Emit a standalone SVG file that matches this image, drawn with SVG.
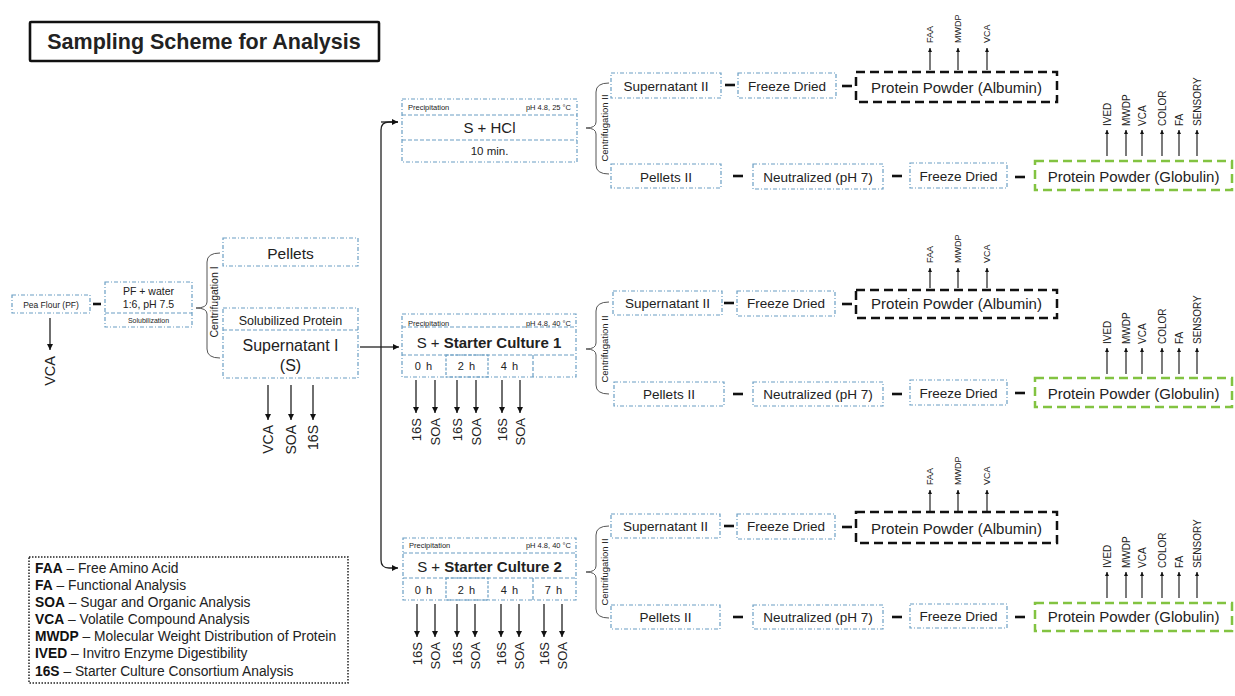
<svg xmlns="http://www.w3.org/2000/svg" width="1235" height="696" viewBox="0 0 1235 696">
<defs>
<marker id="ah" markerUnits="userSpaceOnUse" markerWidth="7" markerHeight="7" refX="6" refY="3" orient="auto"><path d="M0,0 L6,3 L0,6 z" fill="#111"/></marker>
<marker id="ahs" markerUnits="userSpaceOnUse" markerWidth="5" markerHeight="5" refX="4" refY="2" orient="auto"><path d="M0,0 L4,2 L0,4 z" fill="#111"/></marker>
<style>
text{font-family:"Liberation Sans",Arial,sans-serif;fill:#222}
.bx{fill:#fff;stroke:#6a9ec4;stroke-width:1.2;stroke-dasharray:4 2 1 2}
.dv{stroke:#6a9ec4;stroke-width:1.2;stroke-dasharray:4 2}
.alb{fill:#fff;stroke:#111;stroke-width:2.5;stroke-dasharray:9 5}
.glb{fill:#fff;stroke:#82c341;stroke-width:2.5;stroke-dasharray:9 5}
.arr{stroke:#222;stroke-width:1.3;fill:none;marker-end:url(#ah)}
.sa{stroke:#222;stroke-width:1.2;fill:none;marker-end:url(#ahs)}
.dash{stroke:#111;stroke-width:2.6}
.br{stroke:#555;fill:none;stroke-width:1}
.c{text-anchor:middle}
.e{text-anchor:end}
.m{font-size:13.5px}
.p{font-size:15px}
.hd{font-size:7.5px}
.tm{font-size:11px;letter-spacing:1px}
.g{font-size:10px}
.a{font-size:9px}
.r13{font-size:13px}
.r14{font-size:14px}
</style>
</defs>

<g id="title">
<rect x="30" y="22" width="349" height="39" fill="#fff" stroke="#111" stroke-width="2.6" rx="1"/>
<text x="204" y="49" class="c" font-size="21.5" font-weight="bold" fill="#111">Sampling Scheme for Analysis</text>
</g>

<g id="connectors">
<line class="dash" x1="93" y1="304" x2="101" y2="304"/>
<line class="arr" x1="50" y1="318" x2="50" y2="350"/>
<path class="br" d="M220,253 Q207,253 207,262 L207,302 Q207,308 196,308 Q207,308 207,314 L207,349 Q207,358 220,358"/>
<line class="arr" x1="268" y1="385" x2="268" y2="420"/>
<line class="arr" x1="291" y1="385" x2="291" y2="420"/>
<line class="arr" x1="313" y1="385" x2="313" y2="420"/>
<line x1="360" y1="347" x2="381" y2="347" stroke="#222" stroke-width="1.3"/>
<path d="M398,122 L389,122 Q381,122 381,130 L381,560 Q381,568 389,568 L398,568" stroke="#222" stroke-width="1.3" fill="none" marker-end="url(#ah)"/>
<line class="arr" x1="381" y1="347" x2="399" y2="347"/>
<line class="arr" x1="381" y1="122" x2="398" y2="122"/>
<line class="arr" x1="416" y1="380" x2="416" y2="413"/>
<line class="arr" x1="435" y1="380" x2="435" y2="413"/>
<line class="arr" x1="457" y1="380" x2="457" y2="413"/>
<line class="arr" x1="476" y1="380" x2="476" y2="413"/>
<line class="arr" x1="502" y1="380" x2="502" y2="413"/>
<line class="arr" x1="520" y1="380" x2="520" y2="413"/>
<line class="arr" x1="417" y1="604" x2="417" y2="637"/>
<line class="arr" x1="435" y1="604" x2="435" y2="637"/>
<line class="arr" x1="457" y1="604" x2="457" y2="637"/>
<line class="arr" x1="475" y1="604" x2="475" y2="637"/>
<line class="arr" x1="501" y1="604" x2="501" y2="637"/>
<line class="arr" x1="519" y1="604" x2="519" y2="637"/>
<line class="arr" x1="544" y1="604" x2="544" y2="637"/>
<line class="arr" x1="562" y1="604" x2="562" y2="637"/>
<path class="br" d="M609,83 Q596,83 596,92 L596,122 Q596,128 586,128 Q596,128 596,134 L596,165 Q596,174 609,174"/>
<path class="br" d="M609,302 Q596,302 596,311 L596,343 Q596,349 586,349 Q596,349 596,355 L596,385 Q596,394 609,394"/>
<path class="br" d="M609,526 Q596,526 596,535 L596,566 Q596,572 586,572 Q596,572 596,578 L596,609 Q596,618 609,618"/>
<line class="dash" x1="725" y1="85" x2="735" y2="85"/>
<line class="dash" x1="842" y1="86" x2="852" y2="86"/>
<line class="dash" x1="733" y1="176" x2="743" y2="176"/>
<line class="dash" x1="892" y1="176" x2="902" y2="176"/>
<line class="dash" x1="1015" y1="177" x2="1025" y2="177"/>
<line class="dash" x1="724" y1="303" x2="734" y2="303"/>
<line class="dash" x1="842" y1="304" x2="852" y2="304"/>
<line class="dash" x1="733" y1="394" x2="743" y2="394"/>
<line class="dash" x1="892" y1="394" x2="902" y2="394"/>
<line class="dash" x1="1015" y1="393" x2="1025" y2="393"/>
<line class="dash" x1="724" y1="526" x2="734" y2="526"/>
<line class="dash" x1="842" y1="527" x2="852" y2="527"/>
<line class="dash" x1="733" y1="617" x2="743" y2="617"/>
<line class="dash" x1="892" y1="617" x2="902" y2="617"/>
<line class="dash" x1="1015" y1="617" x2="1025" y2="617"/>
<line class="sa" x1="930" y1="70" x2="930" y2="48"/>
<line class="sa" x1="958" y1="70" x2="958" y2="48"/>
<line class="sa" x1="987" y1="70" x2="987" y2="48"/>
<line class="sa" x1="930" y1="288" x2="930" y2="268"/>
<line class="sa" x1="958" y1="288" x2="958" y2="268"/>
<line class="sa" x1="987" y1="288" x2="987" y2="268"/>
<line class="sa" x1="930" y1="511" x2="930" y2="490"/>
<line class="sa" x1="958" y1="511" x2="958" y2="490"/>
<line class="sa" x1="987" y1="511" x2="987" y2="490"/>
<line class="sa" x1="1107" y1="156" x2="1107" y2="130"/>
<line class="sa" x1="1126" y1="156" x2="1126" y2="130"/>
<line class="sa" x1="1142" y1="156" x2="1142" y2="130"/>
<line class="sa" x1="1162" y1="156" x2="1162" y2="130"/>
<line class="sa" x1="1179" y1="156" x2="1179" y2="130"/>
<line class="sa" x1="1197" y1="156" x2="1197" y2="130"/>
<line class="sa" x1="1107" y1="374" x2="1107" y2="348"/>
<line class="sa" x1="1126" y1="374" x2="1126" y2="348"/>
<line class="sa" x1="1142" y1="374" x2="1142" y2="348"/>
<line class="sa" x1="1162" y1="374" x2="1162" y2="348"/>
<line class="sa" x1="1179" y1="374" x2="1179" y2="348"/>
<line class="sa" x1="1197" y1="374" x2="1197" y2="348"/>
<line class="sa" x1="1107" y1="598" x2="1107" y2="572"/>
<line class="sa" x1="1126" y1="598" x2="1126" y2="572"/>
<line class="sa" x1="1142" y1="598" x2="1142" y2="572"/>
<line class="sa" x1="1162" y1="598" x2="1162" y2="572"/>
<line class="sa" x1="1179" y1="598" x2="1179" y2="572"/>
<line class="sa" x1="1197" y1="598" x2="1197" y2="572"/>
</g>

<g id="pea-flour">
<rect class="bx" x="12" y="295" width="78" height="18"/>
<text x="51" y="307.5" class="c" font-size="8.5">Pea Flour (PF)</text>
<text transform="translate(55,356) rotate(-90)" class="e" font-size="14.5">VCA</text>
</g>

<g id="pf-water">
<rect class="bx" x="105" y="282" width="87" height="45"/>
<line class="dv" x1="105" y1="313" x2="192" y2="313"/>
<text x="148.5" y="295" class="c" font-size="10.5">PF + water</text>
<text x="148.5" y="308" class="c" font-size="10.5">1:6, pH 7.5</text>
<text x="148.5" y="322.5" class="c" font-size="7">Solubilization</text>
</g>

<g id="centrifugation-1">
<text transform="translate(218,302) rotate(-90)" class="c" font-size="10.5">Centrifugation I</text>
</g>

<g id="pellets">
<rect class="bx" x="223" y="238" width="135" height="28"/>
<text x="290.5" y="258.5" class="c" font-size="15.5">Pellets</text>
</g>

<g id="supernatant-1">
<rect class="bx" x="223" y="308" width="135" height="70"/>
<line class="dv" x1="223" y1="330" x2="358" y2="330"/>
<text x="290.5" y="324.5" class="c" font-size="12.5">Solubilized Protein</text>
<text x="290.5" y="350.5" class="c" font-size="16">Supernatant I</text>
<text x="290.5" y="371" class="c" font-size="16">(S)</text>
<text transform="translate(273,425) rotate(-90)" class="e r14">VCA</text>
<text transform="translate(296,425) rotate(-90)" class="e r14">SOA</text>
<text transform="translate(318,425) rotate(-90)" class="e r14">16S</text>
</g>

<g id="precip-hcl">
<rect class="bx" x="402" y="99" width="175" height="63"/>
<line class="dv" x1="402" y1="115" x2="577" y2="115"/>
<line class="dv" x1="402" y1="140" x2="577" y2="140"/>
<text x="408" y="109.5" class="hd">Precipitation</text>
<text x="571" y="109.5" class="hd e">pH 4.8, 25 °C</text>
<text x="489.5" y="133" class="c" font-size="15">S + HCl</text>
<text x="489.5" y="155" class="c" font-size="11.5">10 min.</text>
</g>

<g id="precip-sc1">
<rect class="bx" x="402" y="314" width="174" height="63"/>
<line class="dv" x1="402" y1="327" x2="576" y2="327"/>
<line class="dv" x1="402" y1="355" x2="576" y2="355"/>
<rect x="446" y="355" width="42" height="22" fill="none" stroke="#6a9ec4" stroke-width="1.2" stroke-dasharray="3 1.5"/>
<line class="dv" x1="533" y1="355" x2="533" y2="377"/>
<text x="408" y="325.5" class="hd">Precipitation</text>
<text x="571" y="325.5" class="hd e">pH 4.8, 40 °C</text>
<text x="489" y="348" class="c" font-size="15">S + <tspan font-weight="bold">Starter Culture 1</tspan></text>
<text x="424" y="370" class="c tm">0 h</text>
<text x="467" y="370" class="c tm">2 h</text>
<text x="510" y="370" class="c tm">4 h</text>
<text transform="translate(420.7,418) rotate(-90)" class="e r13">16S</text>
<text transform="translate(439.7,418) rotate(-90)" class="e r13">SOA</text>
<text transform="translate(461.7,418) rotate(-90)" class="e r13">16S</text>
<text transform="translate(480.7,418) rotate(-90)" class="e r13">SOA</text>
<text transform="translate(506.7,418) rotate(-90)" class="e r13">16S</text>
<text transform="translate(524.7,418) rotate(-90)" class="e r13">SOA</text>
</g>

<g id="precip-sc2">
<rect class="bx" x="403" y="538" width="173" height="62"/>
<line class="dv" x1="403" y1="553" x2="576" y2="553"/>
<line class="dv" x1="403" y1="578" x2="576" y2="578"/>
<rect x="446" y="578" width="42" height="22" fill="none" stroke="#6a9ec4" stroke-width="1.2" stroke-dasharray="3 1.5"/>
<line class="dv" x1="533" y1="578" x2="533" y2="600"/>
<text x="409" y="547.5" class="hd">Precipitation</text>
<text x="571" y="547.5" class="hd e">pH 4.8, 40 °C</text>
<text x="489.5" y="572" class="c" font-size="15">S + <tspan font-weight="bold">Starter Culture 2</tspan></text>
<text x="424" y="594" class="c tm">0 h</text>
<text x="467" y="594" class="c tm">2 h</text>
<text x="510" y="594" class="c tm">4 h</text>
<text x="554" y="594" class="c tm">7 h</text>
<text transform="translate(421.7,642) rotate(-90)" class="e r13">16S</text>
<text transform="translate(439.7,642) rotate(-90)" class="e r13">SOA</text>
<text transform="translate(461.7,642) rotate(-90)" class="e r13">16S</text>
<text transform="translate(479.7,642) rotate(-90)" class="e r13">SOA</text>
<text transform="translate(505.7,642) rotate(-90)" class="e r13">16S</text>
<text transform="translate(523.7,642) rotate(-90)" class="e r13">SOA</text>
<text transform="translate(548.7,642) rotate(-90)" class="e r13">16S</text>
<text transform="translate(566.7,642) rotate(-90)" class="e r13">SOA</text>
</g>

<g id="group-hcl">
<text transform="translate(607.5,128) rotate(-90)" class="c" font-size="9.5">Centrifugation II</text>
<rect class="bx" x="611" y="73" width="110" height="25"/>
<text x="666" y="91" class="c m">Supernatant II</text>
<rect class="bx" x="738" y="73" width="98" height="25"/>
<text x="787" y="91" class="c m">Freeze Dried</text>
<rect class="alb" x="856" y="72" width="201" height="30"/>
<text x="956.5" y="92.5" class="c p">Protein Powder (Albumin)</text>
<text transform="translate(933.2,43) rotate(-90)" class="a">FAA</text>
<text transform="translate(961.2,43) rotate(-90)" class="a">MWDP</text>
<text transform="translate(990.2,43) rotate(-90)" class="a">VCA</text>
<rect class="bx" x="611" y="164" width="110" height="24"/>
<text x="666" y="181.5" class="c m">Pellets II</text>
<rect class="bx" x="753" y="164" width="130" height="25"/>
<text x="818" y="181.5" class="c m">Neutralized (pH 7)</text>
<rect class="bx" x="910" y="163" width="97" height="25"/>
<text x="958.5" y="181.4" class="c m">Freeze Dried</text>
<rect class="glb" x="1035" y="161" width="197" height="29"/>
<text x="1133.5" y="182" class="c p">Protein Powder (Globulin)</text>
<text transform="translate(1110.6,126) rotate(-90)" class="g">IVED</text>
<text transform="translate(1129.6,126) rotate(-90)" class="g">MWDP</text>
<text transform="translate(1145.6,126) rotate(-90)" class="g">VCA</text>
<text transform="translate(1165.6,126) rotate(-90)" class="g">COLOR</text>
<text transform="translate(1182.6,126) rotate(-90)" class="g">FA</text>
<text transform="translate(1200.6,126) rotate(-90)" class="g">SENSORY</text>
</g>

<g id="group-sc1">
<text transform="translate(607.5,349) rotate(-90)" class="c" font-size="9.5">Centrifugation II</text>
<rect class="bx" x="613" y="291" width="109" height="24"/>
<text x="667.5" y="307.5" class="c m">Supernatant II</text>
<rect class="bx" x="737" y="291" width="98" height="25"/>
<text x="786" y="307.5" class="c m">Freeze Dried</text>
<rect class="alb" x="856" y="290" width="201" height="28"/>
<text x="956.5" y="309.3" class="c p">Protein Powder (Albumin)</text>
<text transform="translate(933.2,263) rotate(-90)" class="a">FAA</text>
<text transform="translate(961.2,263) rotate(-90)" class="a">MWDP</text>
<text transform="translate(990.2,263) rotate(-90)" class="a">VCA</text>
<rect class="bx" x="614" y="382" width="110" height="24"/>
<text x="669" y="398.7" class="c m">Pellets II</text>
<rect class="bx" x="753" y="382" width="130" height="24"/>
<text x="818" y="398.7" class="c m">Neutralized (pH 7)</text>
<rect class="bx" x="910" y="380" width="97" height="25"/>
<text x="958.5" y="398" class="c m">Freeze Dried</text>
<rect class="glb" x="1035" y="378" width="197" height="29"/>
<text x="1133.5" y="398.5" class="c p">Protein Powder (Globulin)</text>
<text transform="translate(1110.6,344) rotate(-90)" class="g">IVED</text>
<text transform="translate(1129.6,344) rotate(-90)" class="g">MWDP</text>
<text transform="translate(1145.6,344) rotate(-90)" class="g">VCA</text>
<text transform="translate(1165.6,344) rotate(-90)" class="g">COLOR</text>
<text transform="translate(1182.6,344) rotate(-90)" class="g">FA</text>
<text transform="translate(1200.6,344) rotate(-90)" class="g">SENSORY</text>
</g>

<g id="group-sc2">
<text transform="translate(607.5,572) rotate(-90)" class="c" font-size="9.5">Centrifugation II</text>
<rect class="bx" x="611" y="514" width="109" height="24"/>
<text x="665.5" y="531.4" class="c m">Supernatant II</text>
<rect class="bx" x="737" y="514" width="98" height="25"/>
<text x="786" y="531.4" class="c m">Freeze Dried</text>
<rect class="alb" x="856" y="512" width="201" height="31"/>
<text x="956.5" y="533.5" class="c p">Protein Powder (Albumin)</text>
<text transform="translate(933.2,485) rotate(-90)" class="a">FAA</text>
<text transform="translate(961.2,485) rotate(-90)" class="a">MWDP</text>
<text transform="translate(990.2,485) rotate(-90)" class="a">VCA</text>
<rect class="bx" x="611" y="605" width="109" height="24"/>
<text x="665.5" y="621.8" class="c m">Pellets II</text>
<rect class="bx" x="753" y="605" width="130" height="24"/>
<text x="818" y="621.8" class="c m">Neutralized (pH 7)</text>
<rect class="bx" x="910" y="604" width="97" height="24"/>
<text x="958.5" y="621.4" class="c m">Freeze Dried</text>
<rect class="glb" x="1035" y="603" width="197" height="28"/>
<text x="1133.5" y="622" class="c p">Protein Powder (Globulin)</text>
<text transform="translate(1110.6,568) rotate(-90)" class="g">IVED</text>
<text transform="translate(1129.6,568) rotate(-90)" class="g">MWDP</text>
<text transform="translate(1145.6,568) rotate(-90)" class="g">VCA</text>
<text transform="translate(1165.6,568) rotate(-90)" class="g">COLOR</text>
<text transform="translate(1182.6,568) rotate(-90)" class="g">FA</text>
<text transform="translate(1200.6,568) rotate(-90)" class="g">SENSORY</text>
</g>

<g id="legend">
<rect x="29" y="557" width="319" height="126" fill="#fff" stroke="#222" stroke-width="1.5" stroke-dasharray="1.5 1.5"/>
<g font-size="13.8">
<text x="35" y="573"><tspan font-weight="bold" fill="#111">FAA</tspan> – Free Amino Acid</text>
<text x="35" y="590"><tspan font-weight="bold" fill="#111">FA</tspan> – Functional Analysis</text>
<text x="35" y="607"><tspan font-weight="bold" fill="#111">SOA</tspan> – Sugar and Organic Analysis</text>
<text x="35" y="624"><tspan font-weight="bold" fill="#111">VCA</tspan> – Volatile Compound Analysis</text>
<text x="35" y="641"><tspan font-weight="bold" fill="#111">MWDP</tspan> – Molecular Weight Distribution of Protein</text>
<text x="35" y="658"><tspan font-weight="bold" fill="#111">IVED</tspan> – Invitro Enzyme Digestibility</text>
<text x="35" y="676"><tspan font-weight="bold" fill="#111">16S</tspan> – Starter Culture Consortium Analysis</text>
</g>
</g>
</svg>
